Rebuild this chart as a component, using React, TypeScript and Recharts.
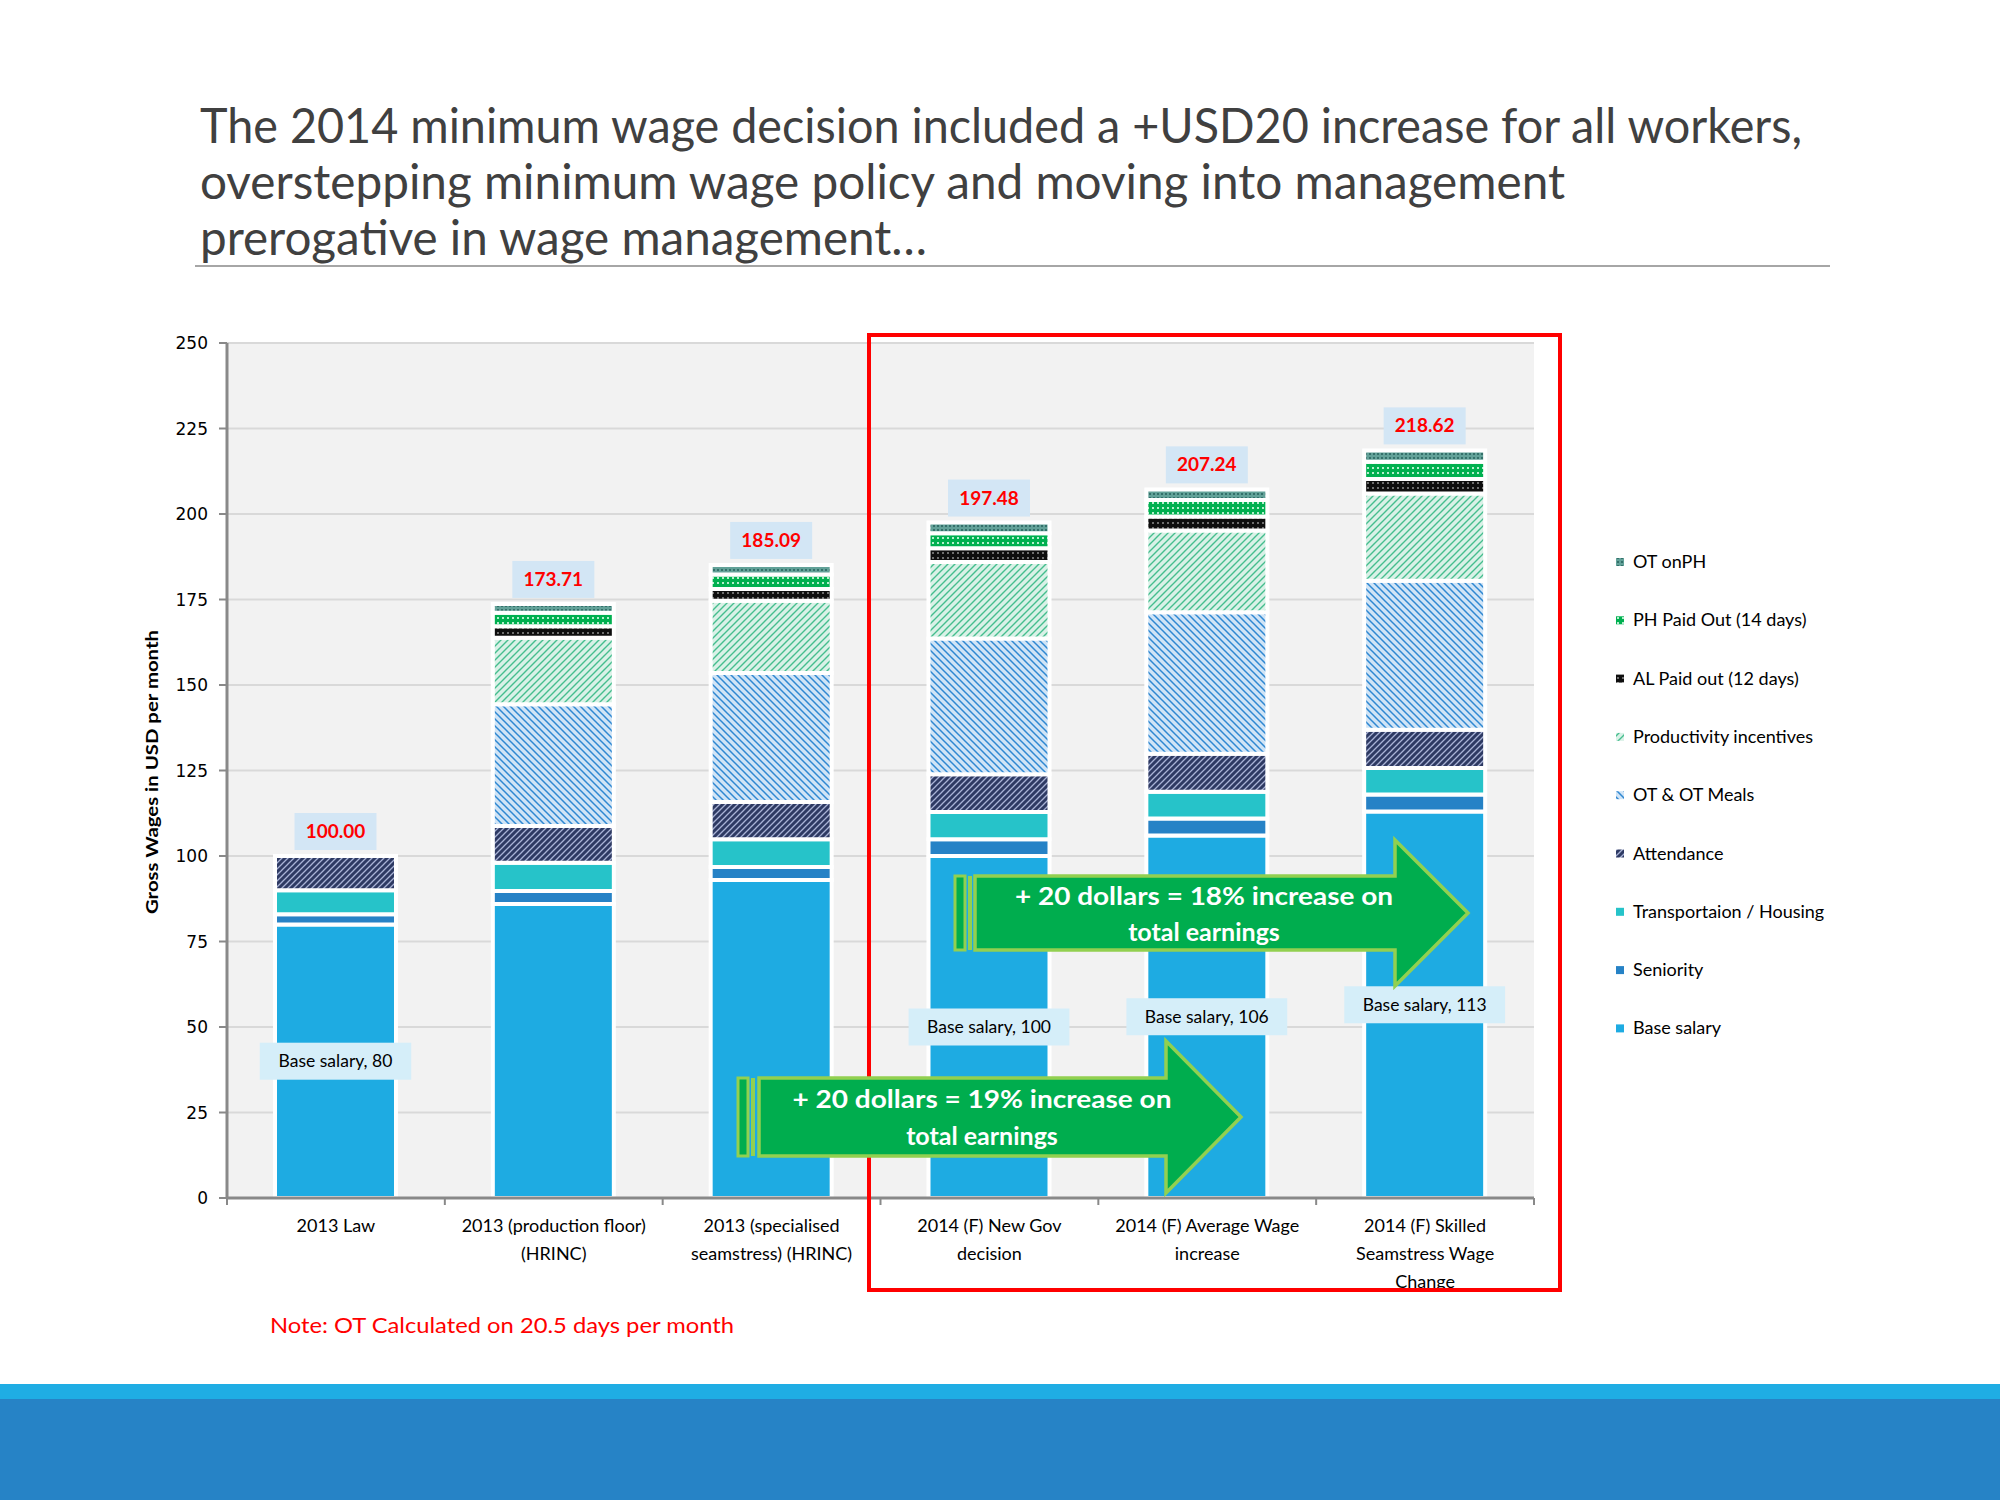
import React from 'react';
import { BarChart, Bar, XAxis, YAxis, CartesianGrid, LabelList } from 'recharts';

// categories and stacked components (USD per month), bottom to top
const categories = [
  '2013 Law',
  '2013 (production floor)\n(HRINC)',
  '2013 (specialised\nseamstress) (HRINC)',
  '2014 (F) New Gov\ndecision',
  '2014 (F) Average Wage\nincrease',
  '2014 (F) Skilled\nSeamstress Wage\nChange',
];
const baseSalary = [80, 86, 93, 100, 106, 113];
const seniority = [3, 3.8, 3.8, 4.9, 5, 5];
const transport = [7, 8.2, 8.1, 8, 7.8, 7.7];
const attendance = [10, 10.8, 10.9, 11, 11.1, 11.2];
const otMeals = [0, 35.6, 37.7, 39.7, 41.4, 43.6];
const productivity = [0, 19.4, 21.1, 22.4, 23.9, 25.5];
const alPaid = [0, 3.4, 3.5, 4, 4.1, 4.2];
const phPaid = [0, 3.9, 4.2, 4.4, 4.8, 5.1];
const otOnPh = [0, 2.6, 2.8, 3.1, 3.1, 3.3];
const totals = ['100.00', '173.71', '185.09', '197.48', '207.24', '218.62'];
const baseLabels = ['Base salary, 80', '', '', 'Base salary, 100', 'Base salary, 106', 'Base salary, 113'];
const yTicks = [0, 25, 50, 75, 100, 125, 150, 175, 200, 225, 250];

const series = [
  { key: 'base', name: 'Base salary', values: baseSalary, fill: '#1EABE2' },
  { key: 'seniority', name: 'Seniority', values: seniority, fill: '#2682C6' },
  { key: 'transport', name: 'Transportaion / Housing', values: transport, fill: '#26C3C9' },
  { key: 'attendance', name: 'Attendance', values: attendance, fill: 'url(#pAtt)' },
  { key: 'ot', name: 'OT & OT Meals', values: otMeals, fill: 'url(#pOt)' },
  { key: 'prod', name: 'Productivity incentives', values: productivity, fill: 'url(#pProd)' },
  { key: 'al', name: 'AL Paid out (12 days)', values: alPaid, fill: 'url(#pAl)' },
  { key: 'ph', name: 'PH Paid Out (14 days)', values: phPaid, fill: 'url(#pPh)' },
  { key: 'otph', name: 'OT onPH', values: otOnPh, fill: 'url(#pOtPh)' },
];

const data = categories.map((name, i) => {
  const row: any = { name, total: totals[i], baseLabel: baseLabels[i] };
  series.forEach((s) => { row[s.key] = s.values[i]; });
  // the highest non-empty segment carries the total label
  row.topKey = [...series].reverse().find((s) => s.values[i] > 0)?.key;
  return row;
});

const PLOT_LEFT = 227;
const PLOT_RIGHT = 1534;
const PLOT_TOP = 343;
const PLOT_BOTTOM = 1198;
const BAND = (PLOT_RIGHT - PLOT_LEFT) / categories.length;
const FONT = 'Lato, "Open Sans", sans-serif';

const XTick = (props: any) => {
  const { x, y, payload, index } = props;
  const lines = String(payload.value).split('\n');
  return (
    <g>
      <line x1={x - BAND / 2} x2={x - BAND / 2} y1={y} y2={y + 7} stroke="#898989" strokeWidth={2} />
      {index === categories.length - 1 && (
        <line x1={x + BAND / 2} x2={x + BAND / 2} y1={y} y2={y + 7} stroke="#898989" strokeWidth={2} />
      )}
      <text textAnchor="middle" fontFamily={FONT} fontSize={18} fill="#000">
        {lines.map((l, i) => (
          <tspan key={i} x={x} y={y + 34 + i * 28}>{l}</tspan>
        ))}
      </text>
    </g>
  );
};

const TotalLabel = (props: any) => {
  const { x, y, width, value } = props;
  if (!value) return null;
  const cx = x + width / 2;
  return (
    <g>
      <rect x={cx - 41} y={y - 43} width={82} height={37} fill="#D3E6F5" />
      <text x={cx} y={y - 18} textAnchor="middle" fontFamily={FONT} fontWeight="bold" fontSize={19} fill="#FF0000">
        {value}
      </text>
    </g>
  );
};

const BaseLabel = (props: any) => {
  const { x, y, width, height, value } = props;
  if (!value) return null;
  const text = String(value);
  const cx = x + width / 2;
  const cy = y + height / 2;
  const w = text.length * 9.3 + 12;
  return (
    <g>
      <rect x={cx - w / 2} y={cy - 18.5} width={w} height={37} fill="#D5EEF9" />
      <text x={cx} y={cy + 6} textAnchor="middle" fontFamily={FONT} fontSize={17.5} fill="#000">{text}</text>
    </g>
  );
};

const GreenArrow = ({ left, bodyX, top, bottom, headX, tipX, half, lines, textX, baselines, textW }: any) => {
  const mid = (top + bottom) / 2;
  const d = `M${bodyX},${top} L${headX},${top} L${headX},${mid - half} L${tipX},${mid} L${headX},${mid + half} L${headX},${bottom} L${bodyX},${bottom} Z`;
  return (
    <g>
      <rect x={left} y={top} width={10} height={bottom - top} fill="#00AD4E" stroke="#92D050" strokeWidth={3} />
      <rect x={left + 13} y={top} width={4} height={bottom - top} fill="#92D050" />
      <path d={d} fill="#00AD4E" stroke="#92D050" strokeWidth={3.5} strokeLinejoin="miter" />
      {lines.map((l: string, i: number) => (
        <text key={i} x={textX} y={baselines[i]} textAnchor="middle" fontFamily={FONT} fontWeight="bold"
          fontSize={25} fill="#fff" textLength={i === 0 ? textW : undefined} lengthAdjust="spacingAndGlyphs">{l}</text>
      ))}
    </g>
  );
};

const Patterns = () => (
  <svg width={0} height={0} style={{ position: 'absolute' }}>
    <defs>
      <pattern id="pAtt" patternUnits="userSpaceOnUse" width="6" height="6">
        <rect width="6" height="6" fill="#2E3A63" />
        <path d="M-1,1 L1,-1 M0,6 L6,0 M5,7 L7,5" stroke="#A9B3D6" strokeWidth="1.3" />
      </pattern>
      <pattern id="pOt" patternUnits="userSpaceOnUse" width="7" height="7">
        <rect width="7" height="7" fill="#D0E4F6" />
        <path d="M0,0 L7,7 M-1,6 L1,8 M6,-1 L8,1" stroke="#2F88D2" strokeWidth="1.5" />
      </pattern>
      <pattern id="pProd" patternUnits="userSpaceOnUse" width="7" height="7">
        <rect width="7" height="7" fill="#D9F1E7" />
        <path d="M-1,1 L1,-1 M0,7 L7,0 M6,8 L8,6" stroke="#45BE8E" strokeWidth="1.4" />
      </pattern>
      <pattern id="pAl" patternUnits="userSpaceOnUse" width="5" height="5">
        <rect width="5" height="5" fill="#0E0E0E" />
        <rect x="2" y="2" width="2" height="2" fill="#6E6E6E" />
      </pattern>
      <pattern id="pPh" patternUnits="userSpaceOnUse" width="5" height="5">
        <rect width="5" height="5" fill="#00B050" />
        <rect x="2" y="2" width="2" height="2" fill="#B5EFCD" />
      </pattern>
      <pattern id="pOtPh" patternUnits="userSpaceOnUse" width="4" height="4">
        <rect width="4" height="4" fill="#62A198" />
        <rect x="1" y="1" width="2" height="2" fill="#34706A" />
      </pattern>
    </defs>
  </svg>
);

const legendItems = [...series].reverse();

export default function App() {
  return (
    <div style={{ position: 'absolute', left: 0, top: 0, width: 2000, height: 1500, background: '#fff', overflow: 'hidden' }}>
      <Patterns />
      <div style={{ position: 'absolute', left: 0, top: 0 }}>
        <BarChart
          width={2000}
          height={1500}
          data={data}
          barSize={121}
          margin={{ top: PLOT_TOP, right: 2000 - PLOT_RIGHT, bottom: 1500 - PLOT_BOTTOM - 60, left: PLOT_LEFT - 60 }}
        >
          <CartesianGrid vertical={false} stroke="#D9D9D9" strokeWidth={2} fill="#F2F2F2" />
          <XAxis dataKey="name" height={60} interval={0} tickSize={0} tickMargin={0} tickLine={false}
            axisLine={{ stroke: '#898989', strokeWidth: 3 }} tick={<XTick />} />
          <YAxis width={60} domain={[0, 250]} ticks={yTicks} interval={0} tickSize={8} tickMargin={11}
            axisLine={{ stroke: '#898989', strokeWidth: 3 }} tickLine={{ stroke: '#898989', strokeWidth: 2 }}
            tick={{ fontFamily: 'DejaVu Sans', fontSize: 17, fill: '#000' }} />
          {series.map((s, i) => (
            <Bar key={s.key} dataKey={s.key} name={s.name} stackId="wage" fill={s.fill} stroke="#FFFFFF"
              strokeWidth={4} isAnimationActive={false}>
              {i === 0 && <LabelList dataKey="baseLabel" content={<BaseLabel />} />}
              <LabelList dataKey={(row: any) => (row.topKey === s.key ? row.total : '')} content={<TotalLabel />} />
            </Bar>
          ))}
        </BarChart>
      </div>
      <svg width={2000} height={1500} style={{ position: 'absolute', left: 0, top: 0, pointerEvents: 'none' }}>
        {/* title */}
        <g fontFamily={FONT} fontSize={48} fill="#404040">
          <text x={200} y={143} textLength={1602} lengthAdjust="spacingAndGlyphs">The 2014 minimum wage decision included a +USD20 increase for all workers,</text>
          <text x={200} y={199} textLength={1365} lengthAdjust="spacingAndGlyphs">overstepping minimum wage policy and moving into management</text>
          <text x={200} y={255} textLength={727} lengthAdjust="spacingAndGlyphs">prerogative in wage management…</text>
        </g>
        <line x1={195} x2={1830} y1={266} y2={266} stroke="#A6A6A6" strokeWidth={2} />

        {/* y axis title */}
        <text transform="translate(158,772) rotate(-90)" textAnchor="middle" fontFamily={FONT} fontWeight="bold"
          fontSize={17} fill="#000" textLength={284} lengthAdjust="spacingAndGlyphs">Gross Wages in USD per month</text>

        {/* legend */}
        {legendItems.map((s, i) => {
          const cy = 562 + i * 58.3;
          return (
            <g key={s.key}>
              <rect x={1616} y={cy - 4} width={8} height={8} fill={s.fill} />
              <text x={1633} y={cy + 6} fontFamily={FONT} fontSize={18} fill="#000">{s.name}</text>
            </g>
          );
        })}

        {/* highlight box */}
        <rect x={869} y={335} width={691} height={955} fill="none" stroke="#FF0000" strokeWidth={4} />

        {/* arrows */}
        <GreenArrow left={955} bodyX={975} top={876} bottom={950} headX={1395} tipX={1468} half={73}
          lines={['+ 20 dollars = 18% increase on', 'total earnings']} textX={1204} baselines={[905, 941]} textW={378} />
        <GreenArrow left={738} bodyX={759} top={1078} bottom={1156} headX={1166} tipX={1241} half={76}
          lines={['+ 20 dollars = 19% increase on', 'total earnings']} textX={982} baselines={[1108, 1145]} textW={379} />

        {/* note */}
        <text x={270} y={1333} fontFamily={FONT} fontSize={21} fill="#FF0000" textLength={464}
          lengthAdjust="spacingAndGlyphs">Note:  OT Calculated on 20.5 days per month</text>

        {/* footer bands */}
        <rect x={0} y={1384} width={2000} height={15} fill="#1FADE4" />
        <rect x={0} y={1399} width={2000} height={101} fill="#2683C6" />
      </svg>
    </div>
  );
}
